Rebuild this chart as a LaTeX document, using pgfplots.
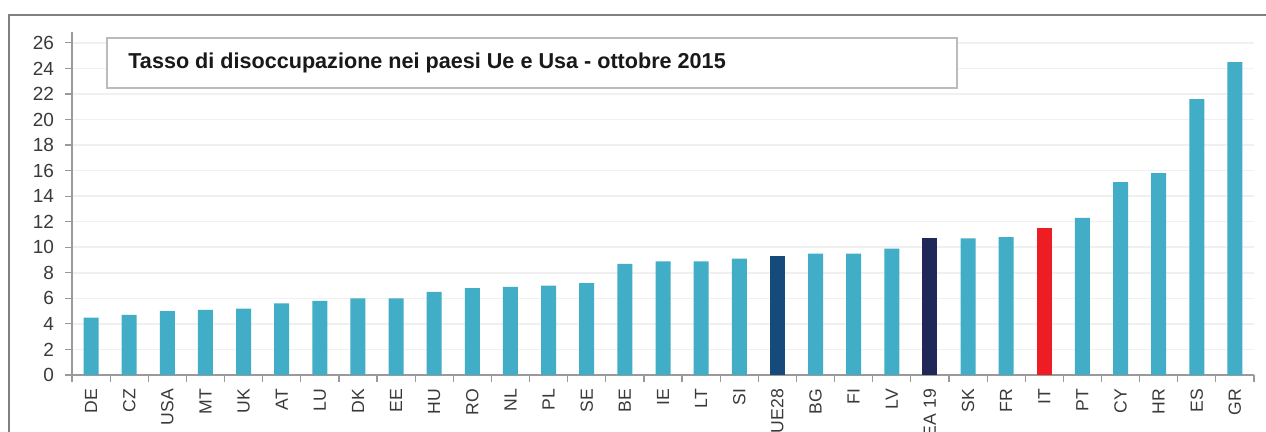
\documentclass[border=0pt]{standalone}
\usepackage{pgfplots}
\pgfplotsset{compat=1.18}
\usepackage{fontspec}
\setmainfont{Liberation Sans}
\definecolor{barteal}{HTML}{42ADC7}
\definecolor{bareu}{HTML}{164A7B}
\definecolor{barea}{HTML}{1F2858}
\definecolor{barit}{HTML}{EE1D23}
\definecolor{axisgray}{HTML}{9A9A9A}
\definecolor{gridgray}{HTML}{F0F0F0}
\definecolor{labelgray}{HTML}{3A3A3A}
\definecolor{framegray}{HTML}{808080}
\definecolor{boxgray}{HTML}{BBBBBB}
\begin{document}
\begin{tikzpicture}[x=1pt,y=1pt]
\fill[white] (0,0) rectangle (633,216);
\begin{scope}
\clip (0,0) rectangle (633,216);
\pgfinterruptboundingbox
\begin{axis}[
  at={(36pt,28.5pt)}, anchor=south west,
  scale only axis, width=591pt, height=171.5pt,
  xmin=-0.5, xmax=30.5, ymin=0, ymax=26.85,
  axis lines*=left,
  axis line style={draw=axisgray, line width=0.8pt},
  ybar, bar width=7.5pt,
  ytick={0,2,...,26},
  ymajorgrids, grid style={draw=gridgray, line width=0.8pt},
  tick align=outside,
  major tick length=3.5pt, minor tick length=3.5pt,
  ytick style={draw=axisgray, line width=0.6pt},
  major x tick style={draw=none},
  minor x tick style={draw=axisgray, line width=0.6pt},
  xtick={0,...,30},
  minor xtick={-0.5,0.5,...,30.5},
  xticklabels={DE,CZ,USA,MT,UK,AT,LU,DK,EE,HU,RO,NL,PL,SE,BE,IE,LT,SI,UE28,BG,FI,LV,EA 19,SK,FR,IT,PT,CY,HR,ES,GR},
  xticklabel style={rotate=90, anchor=east, text=labelgray, font=\fontsize{8.8}{10}\selectfont},
  yticklabel style={text=labelgray, font=\fontsize{9.5}{11}\selectfont, xshift=-2pt},
  /pgf/number format/assume math mode=true,
  clip=false,
]
\addplot[fill=barteal, draw=none, bar shift=0pt] coordinates {
(0,4.5) (1,4.7) (2,5.0) (3,5.1) (4,5.2) (5,5.6) (6,5.8) (7,6.0) (8,6.0) (9,6.5)
(10,6.8) (11,6.9) (12,7.0) (13,7.2) (14,8.7) (15,8.9) (16,8.9) (17,9.1)
(19,9.5) (20,9.5) (21,9.9) (23,10.7) (24,10.8) (26,12.3) (27,15.1) (28,15.8) (29,21.6) (30,24.5)
};
\addplot[fill=bareu, draw=none, bar shift=0pt] coordinates {(18,9.3)};
\addplot[fill=barea, draw=none, bar shift=0pt] coordinates {(22,10.75)};
\addplot[fill=barit, draw=none, bar shift=0pt] coordinates {(25,11.5)};
\end{axis}
\endpgfinterruptboundingbox
\draw[draw=boxgray, fill=white, line width=0.9pt] (53.5,172) rectangle (478.5,197);
\node[anchor=west, inner sep=0pt, text=black!90, font=\bfseries\fontsize{10.8}{13}\selectfont] at (64,184.5) {Tasso di disoccupazione nei paesi Ue e Usa - ottobre 2015};
\draw[framegray, line width=1.3pt] (4.5,-2) -- (4.5,208.5) -- (640,208.5);
\end{scope}
\path (0,0) rectangle (633,216);
\end{tikzpicture}
\end{document}
